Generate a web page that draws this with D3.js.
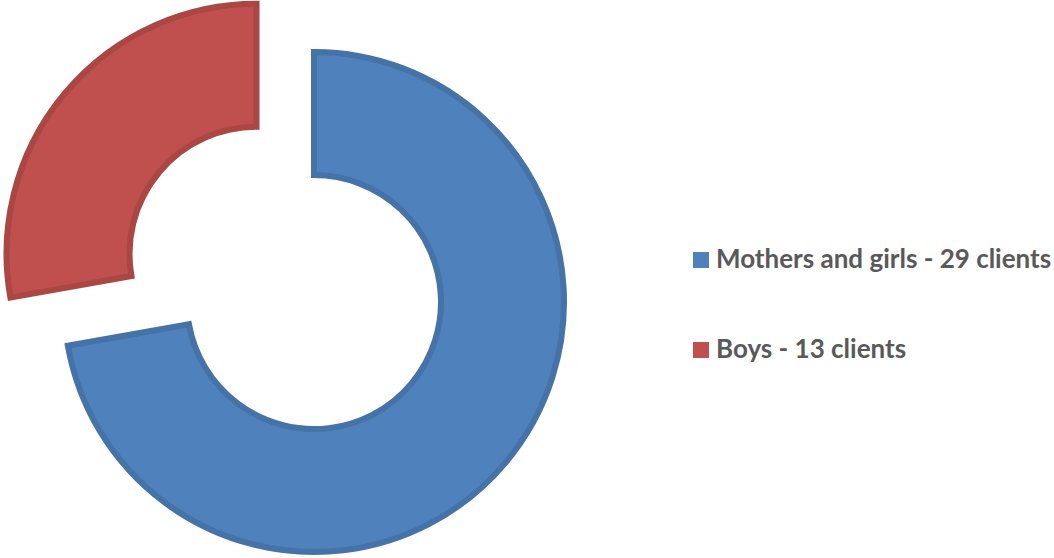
<!DOCTYPE html>
<html><head><meta charset="utf-8">
<script src="https://cdn.jsdelivr.net/npm/d3@7"></script>
<style>body{margin:0;background:#fff}svg{display:block}</style>
</head><body>
<svg id="c" width="1054" height="558"></svg>
<script>
const categories = ["Mothers and girls - 29 clients", "Boys - 13 clients"];
// slice shares as drawn in the picture (percent of the ring)
const values = [72.2, 27.8];
const fills = ["#4F81BD", "#C0504D"];
const strokes = ["#4572A7", "#AA4643"];
const exploded = [0, 1];

const svg = d3.select("#c");
const cx = 314, cy = 302, R = 250, r = 127, explode = 75;
const pie = d3.pie().sort(null).value(d => d)(values);
const arc = d3.arc().innerRadius(r).outerRadius(R);
const g = svg.append("g").attr("transform", `translate(${cx},${cy})`);
g.selectAll("path").data(pie).join("path")
  .attr("d", arc)
  .attr("transform", (d, i) => {
    if (!exploded[i]) return null;
    const a = (d.startAngle + d.endAngle) / 2;
    return `translate(${Math.sin(a) * explode},${-Math.cos(a) * explode})`;
  })
  .attr("fill", (d, i) => fills[i])
  .attr("stroke", (d, i) => strokes[i])
  .attr("stroke-width", 6)
  .attr("stroke-linejoin", "miter");

const lg = svg.append("g");
const ys = [260, 350];
categories.forEach((c, i) => {
  lg.append("rect").attr("x", 693).attr("y", ys[i] - 8).attr("width", 16).attr("height", 16).attr("fill", fills[i]);
  lg.append("text").attr("x", 716).attr("y", ys[i] + 8)
    .attr("font-family", "Lato, 'Open Sans', sans-serif").attr("font-weight", "bold")
    .attr("font-size", 26).attr("fill", "#595959").text(c);
});
</script>
</body></html>
